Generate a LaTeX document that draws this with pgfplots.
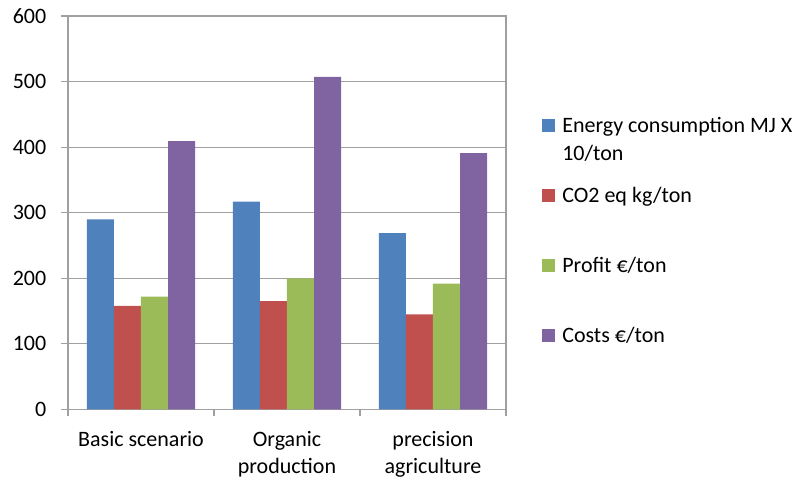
\documentclass[border=0pt]{standalone}
\usepackage{fontspec}
\setmainfont{Carlito}
\usepackage{pgfplots}
\pgfplotsset{compat=1.18}
\definecolor{cblue}{HTML}{4F81BD}
\definecolor{cred}{HTML}{C0504D}
\definecolor{cgreen}{HTML}{9BBB59}
\definecolor{cpurple}{HTML}{8064A2}
\definecolor{cgrid}{HTML}{A0A0A0}
\begin{document}
\fontsize{11}{13.6}\selectfont
\begin{tikzpicture}
\useasboundingbox (0,0) rectangle (402.5pt,240.5pt);
\begin{axis}[
  at={(34pt,35.8pt)}, anchor=south west,
  scale only axis, width=219pt, height=196.7pt,
  ybar=0pt, bar width=0.185,
  ymin=0, ymax=600, ytick={0,100,...,600},
  xmin=-0.5, xmax=2.5, xtick={0,1,2},
  xticklabels={Basic scenario,{Organic\\production},{precision\\agriculture}},
  xticklabel style={align=center, yshift=-3.7pt},
  yticklabel style={xshift=-3.5pt},
  minor xtick={-0.5,0.5,1.5,2.5},
  major x tick style={draw=none},
  tick align=outside, tick pos=left,
  major tick length=3.5pt, minor tick length=3.5pt,
  tick style={cgrid, line width=0.6pt},
  ymajorgrids, major grid style={cgrid, line width=0.6pt},
  axis line style={cgrid, line width=0.6pt},
  /pgf/number format/assume math mode=true,
  tick label style={font=\fontsize{11}{13.6}\selectfont},
  legend image code/.code={\fill[#1] (0pt,0pt) rectangle (6.5pt,6.5pt);},
  legend style={at={(1.082,0.746)}, anchor=north west, draw=none, fill=none,
    inner sep=0pt, row sep=11pt, column sep=3.5pt,
    cells={anchor=base west},
    nodes={inner sep=0pt, text width=130pt, align=flush left, text height=8pt, text depth=16pt, anchor=base west},
    font=\fontsize{11}{14.2}\selectfont},
]
\addplot[draw=none, fill=cblue] coordinates {(0,290) (1,317) (2,269)};
\addplot[draw=none, fill=cred] coordinates {(0,158) (1,165) (2,145)};
\addplot[draw=none, fill=cgreen] coordinates {(0,172) (1,200) (2,192)};
\addplot[draw=none, fill=cpurple] coordinates {(0,409) (1,507) (2,391)};
\addlegendentry{Energy consumption MJ X\\10/ton}
\addlegendentry{CO2 eq kg/ton}
\addlegendentry{Profit €/ton}
\addlegendentry{Costs €/ton}
\end{axis}
\end{tikzpicture}
\end{document}
